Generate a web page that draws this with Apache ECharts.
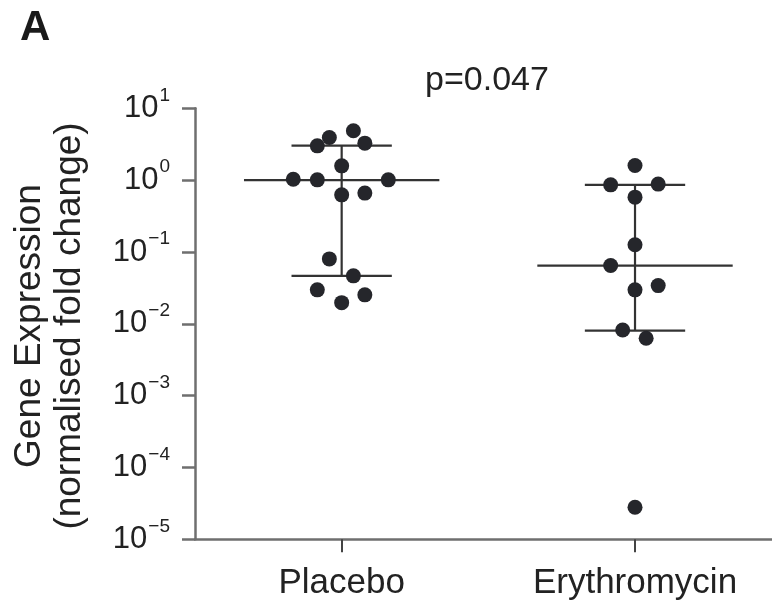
<!DOCTYPE html>
<html>
<head>
<meta charset="utf-8">
<script src="https://cdn.jsdelivr.net/npm/echarts@6/dist/echarts.min.js"></script>
<style>
  html, body { margin: 0; padding: 0; background: #fff; }
  #chart { width: 772px; height: 609px; }
</style>
</head>
<body>
<div id="chart"></div>
<script>
// Groups and their positions on the horizontal axis
var categories = ['Placebo', 'Erythromycin'];
var categoryPos = [0.5, 1.5];
// Visible end of the horizontal axis (the axis runs off the right edge)
var xMax = 1.967;

// Individual measurements (normalised fold change) and horizontal spread of each dot
var placeboValues = [4.86, 3.92, 3.0, 3.27, 1.58, 1.03, 1.01, 1.01, 0.624, 0.66, 0.080, 0.0465, 0.0297, 0.0253, 0.0197];
var placeboJitter = [0.04, -0.042, -0.083, 0.079, 0, -0.165, -0.083, 0.159, 0, 0.079, -0.042, 0.04, -0.083, 0.079, 0];

var erythroValues = [1.6, 0.86, 0.88, 0.58, 0.126, 0.0647, 0.0297, 0.034, 0.0082, 0.0063, 0.0000279];
var erythroJitter = [0, -0.083, 0.079, 0, 0, -0.083, 0, 0.079, -0.042, 0.038, 0];

// Median and interquartile range per group: [lower, median, upper]
var placeboSummary = [0.0465, 1.0, 3.03];
var erythroSummary = [0.00804, 0.0647, 0.86];

// Y axis range (log scale)
var yMin = 1e-5;
var yMax = 10;

var pValueText = 'p=0.047';
var panelLetter = 'A';
var yTitle = 'Gene Expression\n(normalised fold change)';

var MEDIAN_HALF = 0.333;
var WHISKER_HALF = 0.171;

function points(values, jitter, pos) {
  return values.map(function (v, i) { return [pos + jitter[i], v]; });
}

var scatterData = points(placeboValues, placeboJitter, categoryPos[0])
  .concat(points(erythroValues, erythroJitter, categoryPos[1]));

var summaryData = [
  [categoryPos[0]].concat(placeboSummary),
  [categoryPos[1]].concat(erythroSummary)
];

var fontFamily = '"Liberation Sans", Arial, Helvetica, sans-serif';
var axisColor = '#6f6f6f';
var textColor = '#222222';

var chart = echarts.init(document.getElementById('chart'), null, { renderer: 'canvas' });

chart.setOption({
  backgroundColor: '#ffffff',
  animation: false,
  grid: { left: 195, top: 108.3, right: 0, bottom: 69.7, containLabel: false },
  xAxis: {
    type: 'value',
    min: 0,
    max: xMax,
    splitLine: { show: false },
    axisLine: { show: true, lineStyle: { color: axisColor, width: 2.5 } },
    axisTick: {
      show: true,
      customValues: categoryPos,
      length: 13,
      lineStyle: { color: '#444', width: 2 }
    },
    axisLabel: {
      customValues: categoryPos,
      margin: 27,
      color: textColor,
      fontFamily: fontFamily,
      fontSize: 35,
      lineHeight: 35,
      formatter: function (v) {
        var idx = categoryPos.indexOf(v);
        return idx >= 0 ? categories[idx] : '';
      }
    }
  },
  yAxis: {
    type: 'log',
    logBase: 10,
    min: yMin,
    max: yMax,
    interval: 1,
    splitLine: { show: false },
    minorTick: { show: false },
    axisLine: { show: true, lineStyle: { color: axisColor, width: 2.5 } },
    axisTick: { show: true, length: 13, lineStyle: { color: axisColor, width: 2.5 } },
    axisLabel: {
      margin: 25,
      color: textColor,
      fontFamily: fontFamily,
      formatter: function (value) {
        var e = Math.round(Math.log10(value));
        var exp = e < 0 ? '\u2212' + (-e) : String(e);
        return '{b|10}{e|' + exp + '}';
      },
      rich: {
        b: { fontSize: 31, lineHeight: 31, fontFamily: fontFamily, color: textColor, verticalAlign: 'bottom' },
        e: { fontSize: 19, lineHeight: 19, fontFamily: fontFamily, color: textColor, verticalAlign: 'bottom', padding: [0, 0, 19, 1] }
      }
    }
  },
  graphic: [
    {
      type: 'text',
      left: 20,
      top: 7,
      style: { text: panelLetter, font: 'bold 42px ' + fontFamily, fill: '#1a1a1a' }
    },
    {
      type: 'text',
      x: 487,
      y: 81,
      style: { text: pValueText, font: '34px ' + fontFamily, fill: textColor, align: 'center', verticalAlign: 'middle' }
    },
    {
      type: 'text',
      x: 50,
      y: 326,
      rotation: Math.PI / 2,
      style: {
        text: yTitle,
        font: '37px ' + fontFamily,
        lineHeight: 40,
        fill: textColor,
        align: 'center',
        verticalAlign: 'middle'
      }
    }
  ],
  series: [
    {
      type: 'custom',
      name: 'summary',
      data: summaryData,
      encode: { x: 0, y: [1, 2, 3] },
      z: 2,
      renderItem: function (params, api) {
        var cx = api.value(0), lo = api.value(1), mid = api.value(2), hi = api.value(3);
        var style = { stroke: '#333333', lineWidth: 2.2 };
        function seg(x1, y1, x2, y2) {
          var a = api.coord([x1, y1]), b = api.coord([x2, y2]);
          return { type: 'line', shape: { x1: a[0], y1: a[1], x2: b[0], y2: b[1] }, style: style };
        }
        return {
          type: 'group',
          children: [
            seg(cx, lo, cx, hi),
            seg(cx - MEDIAN_HALF, mid, cx + MEDIAN_HALF, mid),
            seg(cx - WHISKER_HALF, hi, cx + WHISKER_HALF, hi),
            seg(cx - WHISKER_HALF, lo, cx + WHISKER_HALF, lo)
          ]
        };
      }
    },
    {
      type: 'scatter',
      name: 'samples',
      data: scatterData,
      symbol: 'circle',
      symbolSize: 15,
      z: 3,
      itemStyle: { color: '#25262b', opacity: 1 }
    }
  ]
});
</script>
</body>
</html>
